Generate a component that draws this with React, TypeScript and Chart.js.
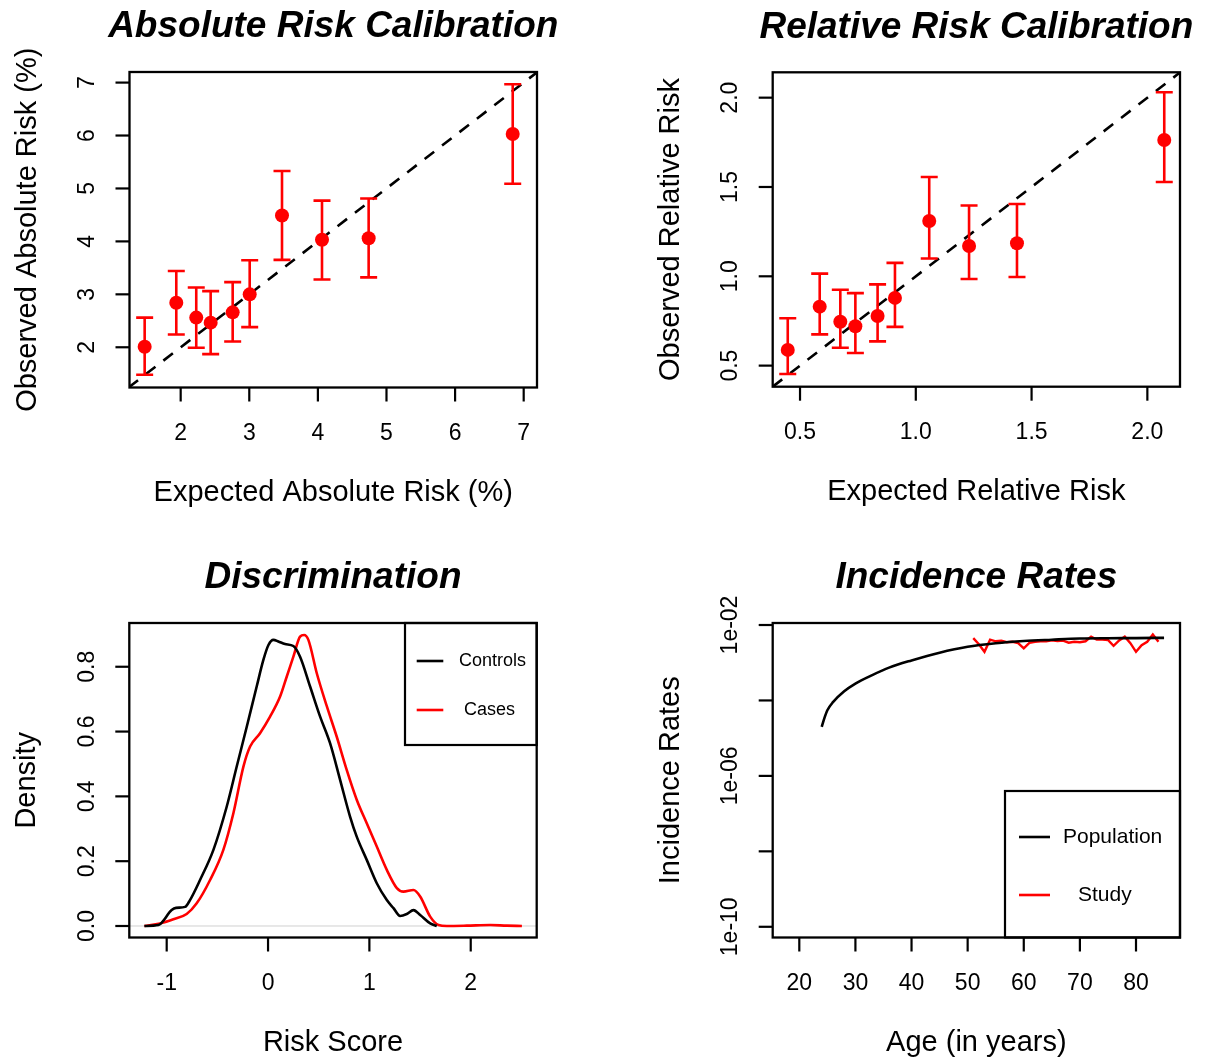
import React, { useEffect, useRef } from "react";
import { Chart, registerables } from "chart.js";
Chart.register(...registerables);

const PAGE_W = 1211;
const PAGE_H = 1057;
const FONT = '"Liberation Sans", Arial, Helvetica, sans-serif';
const RED = "#ff0000";
const BLACK = "#000000";

// ---------- Panel 1: Absolute Risk Calibration ----------
const absExpected = [1.475, 1.936, 2.227, 2.437, 2.758, 3.006, 3.477, 4.06, 4.74, 6.84];
const absObserved = [2.01, 2.84, 2.56, 2.465, 2.66, 3.0, 4.49, 4.03, 4.06, 6.03];
const absLower = [1.48, 2.24, 1.99, 1.87, 2.11, 2.38, 3.65, 3.28, 3.32, 5.09];
const absUpper = [2.56, 3.44, 3.13, 3.06, 3.23, 3.645, 5.33, 4.77, 4.81, 6.97];
const absTicks = [2, 3, 4, 5, 6, 7];
const absTickLabels = ["2", "3", "4", "5", "6", "7"];

// ---------- Panel 2: Relative Risk Calibration ----------
const relExpected = [0.447, 0.585, 0.674, 0.739, 0.835, 0.91, 1.058, 1.23, 1.437, 2.073];
const relObserved = [0.588, 0.83, 0.746, 0.72, 0.778, 0.879, 1.31, 1.17, 1.185, 1.763];
const relLower = [0.453, 0.675, 0.6, 0.571, 0.636, 0.717, 1.1, 0.985, 0.996, 1.528];
const relUpper = [0.765, 1.015, 0.925, 0.906, 0.955, 1.075, 1.556, 1.396, 1.405, 2.03];
const relTicks = [0.5, 1.0, 1.5, 2.0];
const relTickLabels = ["0.5", "1.0", "1.5", "2.0"];

// ---------- Panel 3: Discrimination ----------
const ctrlX = [-1.22, -1.082, -0.951, -0.908, -0.819, -0.77, -0.671, -0.539, -0.408, -0.309, -0.21, -0.112, -0.046, 0.004, 0.053, 0.102, 0.168, 0.25, 0.316, 0.415, 0.514, 0.612, 0.711, 0.81, 0.876, 0.974, 1.073, 1.172, 1.238, 1.303, 1.369, 1.435, 1.501, 1.6, 1.665];
const ctrlY = [0.0, 0.003, 0.049, 0.056, 0.059, 0.08, 0.142, 0.235, 0.368, 0.492, 0.615, 0.739, 0.821, 0.867, 0.883, 0.878, 0.87, 0.864, 0.831, 0.739, 0.646, 0.564, 0.451, 0.337, 0.275, 0.204, 0.132, 0.08, 0.055, 0.031, 0.037, 0.049, 0.034, 0.008, 0.0];
const caseX = [-1.22, -1.066, -0.934, -0.803, -0.704, -0.572, -0.441, -0.342, -0.243, -0.177, -0.079, 0.02, 0.119, 0.185, 0.25, 0.316, 0.356, 0.398, 0.481, 0.579, 0.678, 0.777, 0.876, 0.974, 1.073, 1.172, 1.271, 1.336, 1.435, 1.501, 1.6, 1.682, 1.764, 1.961, 2.192, 2.356, 2.505];
const caseY = [0.0, 0.008, 0.021, 0.037, 0.07, 0.142, 0.235, 0.348, 0.492, 0.554, 0.595, 0.646, 0.708, 0.77, 0.831, 0.893, 0.898, 0.883, 0.78, 0.679, 0.584, 0.481, 0.389, 0.317, 0.245, 0.173, 0.117, 0.106, 0.111, 0.091, 0.029, 0.003, 0.0, 0.001, 0.003, 0.001, 0.0];
const densXTicks = [-1, 0, 1, 2];
const densXTickLabels = ["-1", "0", "1", "2"];
const densYTicks = [0, 0.2, 0.4, 0.6, 0.8];
const densYTickLabels = ["0.0", "0.2", "0.4", "0.6", "0.8"];

// ---------- Panel 4: Incidence Rates ----------
const popAges = [24, 24.5, 25, 26, 28, 30, 33, 36, 40, 45, 50, 55, 60, 65, 70, 75, 80, 85];
const popRates = [2.0e-5, 3.5e-5, 5.5e-5, 9.0e-5, 1.75e-4, 2.8e-4, 4.7e-4, 7.4e-4, 1.15e-3, 1.85e-3, 2.65e-3, 3.28e-3, 3.76e-3, 4.08e-3, 4.38e-3, 4.47e-3, 4.5e-3, 4.57e-3];
const studyAges = [51, 52, 53, 54, 55, 56, 57, 58, 59, 60, 61, 62, 63, 64, 65, 66, 67, 68, 69, 70, 71, 72, 73, 74, 75, 76, 77, 78, 79, 80, 81, 82, 83, 84];
const studyRates = [4.5e-3, 3.1e-3, 1.95e-3, 4.1e-3, 3.7e-3, 3.85e-3, 3.5e-3, 3.6e-3, 3.3e-3, 2.4e-3, 3.35e-3, 3.6e-3, 3.7e-3, 3.7e-3, 3.9e-3, 3.75e-3, 3.85e-3, 3.4e-3, 3.6e-3, 3.5e-3, 3.7e-3, 4.9e-3, 4.1e-3, 4.1e-3, 4.0e-3, 2.8e-3, 3.9e-3, 4.9e-3, 3.3e-3, 1.95e-3, 2.9e-3, 3.6e-3, 5.6e-3, 3.6e-3];
const ageTicks = [20, 30, 40, 50, 60, 70, 80];
const ageTickLabels = ["20", "30", "40", "50", "60", "70", "80"];
const rateTicks = [1e-2, 1e-4, 1e-6, 1e-8, 1e-10];
const rateTickLabels = ["1e-02", "", "1e-06", "", "1e-10"];

type Area = { left: number; top: number; right: number; bottom: number };

const zip = (xs: number[], ys: number[]) => xs.map((x, i) => ({ x, y: ys[i] }));

function baseOptions(area: Area, xr: number[], yr: number[], yType: string = "linear"): any {
  return {
    responsive: false,
    animation: false,
    devicePixelRatio: 1,
    events: [],
    layout: {
      padding: { left: area.left, top: area.top, right: PAGE_W - area.right, bottom: PAGE_H - area.bottom },
    },
    plugins: { legend: { display: false }, tooltip: { enabled: false }, title: { display: false } },
    scales: {
      x: { type: "linear", min: xr[0], max: xr[1], display: false },
      y: { type: yType, min: yr[0], max: yr[1], display: false },
    },
  };
}

type LegendCfg = {
  box: Area;
  fontSize: number;
  lineX: number[];
  items: { dataset: number; y: number; textX: number }[];
};

type FrameCfg = {
  title: string;
  xLabel: string;
  yLabel: string;
  xTicks: number[];
  xTickLabels: string[];
  yTicks: number[];
  yTickLabels: string[];
  legend?: LegendCfg;
};

function makeFrame(cfg: FrameCfg) {
  return {
    id: "rFrame",
    afterDraw(chart: any) {
      const { ctx, chartArea: a, scales } = chart;
      const xs = scales.x;
      const ys = scales.y;
      ctx.save();
      ctx.strokeStyle = BLACK;
      ctx.fillStyle = BLACK;
      if (cfg.legend) {
        const L = cfg.legend;
        ctx.fillStyle = "#ffffff";
        ctx.fillRect(L.box.left, L.box.top, L.box.right - L.box.left, L.box.bottom - L.box.top);
        ctx.lineWidth = 2.2;
        ctx.strokeStyle = BLACK;
        ctx.strokeRect(L.box.left, L.box.top, L.box.right - L.box.left, L.box.bottom - L.box.top);
        ctx.font = `${L.fontSize}px ${FONT}`;
        ctx.textAlign = "left";
        ctx.textBaseline = "middle";
        L.items.forEach((it) => {
          const ds = chart.data.datasets[it.dataset];
          ctx.strokeStyle = ds.borderColor;
          ctx.lineWidth = 2.6;
          ctx.beginPath();
          ctx.moveTo(L.lineX[0], it.y);
          ctx.lineTo(L.lineX[1], it.y);
          ctx.stroke();
          ctx.fillStyle = BLACK;
          ctx.fillText(ds.label, it.textX, it.y);
        });
        ctx.strokeStyle = BLACK;
        ctx.fillStyle = BLACK;
      }
      ctx.lineWidth = 2.3;
      ctx.strokeRect(a.left, a.top, a.right - a.left, a.bottom - a.top);
      ctx.lineWidth = 2.2;
      ctx.font = `23px ${FONT}`;
      ctx.textAlign = "center";
      ctx.textBaseline = "middle";
      cfg.xTicks.forEach((v, i) => {
        const px = xs.getPixelForValue(v);
        ctx.beginPath();
        ctx.moveTo(px, a.bottom);
        ctx.lineTo(px, a.bottom + 14);
        ctx.stroke();
        ctx.fillText(cfg.xTickLabels[i], px, a.bottom + 46);
      });
      cfg.yTicks.forEach((v, i) => {
        const py = ys.getPixelForValue(v);
        ctx.beginPath();
        ctx.moveTo(a.left - 14, py);
        ctx.lineTo(a.left, py);
        ctx.stroke();
        const lab = cfg.yTickLabels[i];
        if (lab) {
          ctx.save();
          ctx.translate(a.left - 42, py);
          ctx.rotate(-Math.PI / 2);
          ctx.fillText(lab, 0, 0);
          ctx.restore();
        }
      });
      ctx.font = `29px ${FONT}`;
      ctx.fillText(cfg.xLabel, (a.left + a.right) / 2, a.bottom + 105);
      ctx.save();
      ctx.translate(a.left - 102, (a.top + a.bottom) / 2);
      ctx.rotate(-Math.PI / 2);
      ctx.fillText(cfg.yLabel, 0, 0);
      ctx.restore();
      ctx.font = `italic bold 37px ${FONT}`;
      ctx.fillText(cfg.title, (a.left + a.right) / 2, a.top - 45);
      ctx.restore();
    },
  };
}

function makeErrorBars(lower: number[], upper: number[]) {
  return {
    id: "errorBars",
    beforeDatasetDraw(chart: any, args: any) {
      if (args.index !== 0) return;
      const { ctx } = chart;
      const ys = chart.scales.y;
      ctx.save();
      ctx.strokeStyle = RED;
      ctx.lineWidth = 2.6;
      args.meta.data.forEach((pt: any, i: number) => {
        const x = pt.x;
        const yl = ys.getPixelForValue(lower[i]);
        const yu = ys.getPixelForValue(upper[i]);
        ctx.beginPath();
        ctx.moveTo(x, yl);
        ctx.lineTo(x, yu);
        ctx.moveTo(x - 8.5, yl);
        ctx.lineTo(x + 8.5, yl);
        ctx.moveTo(x - 8.5, yu);
        ctx.lineTo(x + 8.5, yu);
        ctx.stroke();
      });
      ctx.restore();
    },
  };
}

function makeHLine(value: number, color: string) {
  return {
    id: "hLine",
    beforeDatasetsDraw(chart: any) {
      const { ctx, chartArea: a } = chart;
      const py = chart.scales.y.getPixelForValue(value);
      ctx.save();
      ctx.strokeStyle = color;
      ctx.lineWidth = 1;
      ctx.beginPath();
      ctx.moveTo(a.left, py);
      ctx.lineTo(a.right, py);
      ctx.stroke();
      ctx.restore();
    },
  };
}

function calibrationConfig(
  area: Area,
  range: number[][],
  xv: number[],
  yv: number[],
  lo: number[],
  hi: number[],
  frame: FrameCfg
): any {
  const opts = baseOptions(area, range[0], range[1]);
  const lineLo = Math.min(range[0][0], range[1][0]);
  const lineHi = Math.max(range[0][1], range[1][1]);
  return {
    type: "scatter",
    data: {
      datasets: [
        {
          label: "Observed",
          data: zip(xv, yv),
          pointRadius: 7,
          pointBackgroundColor: RED,
          pointBorderWidth: 0,
          showLine: false,
        },
        {
          label: "Identity",
          data: [
            { x: lineLo, y: lineLo },
            { x: lineHi, y: lineHi },
          ],
          showLine: true,
          borderColor: BLACK,
          borderWidth: 2.6,
          borderDash: [12, 10],
          pointRadius: 0,
        },
      ],
    },
    options: opts,
    plugins: [makeErrorBars(lo, hi), makeFrame(frame)],
  };
}

const AREA1: Area = { left: 129.5, top: 72, right: 537, bottom: 387.5 };
const AREA2: Area = { left: 772.7, top: 72.3, right: 1180, bottom: 386.7 };
const AREA3: Area = { left: 129.3, top: 623, right: 536.7, bottom: 937.5 };
const AREA4: Area = { left: 772.7, top: 623, right: 1180, bottom: 937.5 };

function config1() {
  return calibrationConfig(
    AREA1,
    [
      [1.254, 7.194],
      [1.24, 7.2],
    ],
    absExpected,
    absObserved,
    absLower,
    absUpper,
    {
      title: "Absolute Risk Calibration",
      xLabel: "Expected Absolute Risk (%)",
      yLabel: "Observed Absolute Risk (%)",
      xTicks: absTicks,
      xTickLabels: absTickLabels,
      yTicks: absTicks,
      yTickLabels: absTickLabels,
    }
  );
}

function config2() {
  return calibrationConfig(
    AREA2,
    [
      [0.382, 2.141],
      [0.382, 2.142],
    ],
    relExpected,
    relObserved,
    relLower,
    relUpper,
    {
      title: "Relative Risk Calibration",
      xLabel: "Expected Relative Risk",
      yLabel: "Observed Relative Risk",
      xTicks: relTicks,
      xTickLabels: relTickLabels,
      yTicks: relTicks,
      yTickLabels: relTickLabels,
    }
  );
}

function config3(): any {
  return {
    type: "scatter",
    data: {
      datasets: [
        {
          label: "Controls",
          data: zip(ctrlX, ctrlY),
          showLine: true,
          borderColor: BLACK,
          borderWidth: 2.6,
          pointRadius: 0,
          cubicInterpolationMode: "monotone",
        },
        {
          label: "Cases",
          data: zip(caseX, caseY),
          showLine: true,
          borderColor: RED,
          borderWidth: 2.6,
          pointRadius: 0,
          cubicInterpolationMode: "monotone",
        },
      ],
    },
    options: baseOptions(AREA3, [-1.369, 2.651], [-0.0355, 0.935]),
    plugins: [
      makeHLine(0, "#d0d0d0"),
      makeFrame({
        title: "Discrimination",
        xLabel: "Risk Score",
        yLabel: "Density",
        xTicks: densXTicks,
        xTickLabels: densXTickLabels,
        yTicks: densYTicks,
        yTickLabels: densYTickLabels,
        legend: {
          box: { left: 405, top: 623, right: 536.7, bottom: 745 },
          fontSize: 18,
          lineX: [416.7, 443.3],
          items: [
            { dataset: 0, y: 661, textX: 459 },
            { dataset: 1, y: 710, textX: 464 },
          ],
        },
      }),
    ],
  };
}

function config4(): any {
  return {
    type: "scatter",
    data: {
      datasets: [
        {
          label: "Population",
          data: zip(popAges, popRates),
          showLine: true,
          borderColor: BLACK,
          borderWidth: 2.6,
          pointRadius: 0,
          cubicInterpolationMode: "monotone",
        },
        {
          label: "Study",
          data: zip(studyAges, studyRates),
          showLine: true,
          borderColor: RED,
          borderWidth: 2.4,
          pointRadius: 0,
          tension: 0,
        },
      ],
    },
    options: baseOptions(AREA4, [15.26, 87.84], [5.2e-11, 1.13e-2], "logarithmic"),
    plugins: [
      makeFrame({
        title: "Incidence Rates",
        xLabel: "Age (in years)",
        yLabel: "Incidence Rates",
        xTicks: ageTicks,
        xTickLabels: ageTickLabels,
        yTicks: rateTicks,
        yTickLabels: rateTickLabels,
        legend: {
          box: { left: 1005, top: 791, right: 1180, bottom: 937.5 },
          fontSize: 21,
          lineX: [1019, 1050],
          items: [
            { dataset: 0, y: 837, textX: 1063 },
            { dataset: 1, y: 895, textX: 1078 },
          ],
        },
      }),
    ],
  };
}

function Panel({ build }: { build: () => any }) {
  const ref = useRef<HTMLCanvasElement | null>(null);
  useEffect(() => {
    if (!ref.current) return;
    const chart = new Chart(ref.current, build());
    return () => chart.destroy();
  }, []);
  return (
    <canvas
      ref={ref}
      width={PAGE_W}
      height={PAGE_H}
      style={{ position: "absolute", left: 0, top: 0, width: PAGE_W, height: PAGE_H }}
    />
  );
}

export default function App() {
  return (
    <div
      style={{
        position: "absolute",
        left: 0,
        top: 0,
        width: PAGE_W,
        height: PAGE_H,
        background: "#ffffff",
        overflow: "hidden",
      }}
    >
      <Panel build={config1} />
      <Panel build={config2} />
      <Panel build={config3} />
      <Panel build={config4} />
    </div>
  );
}
